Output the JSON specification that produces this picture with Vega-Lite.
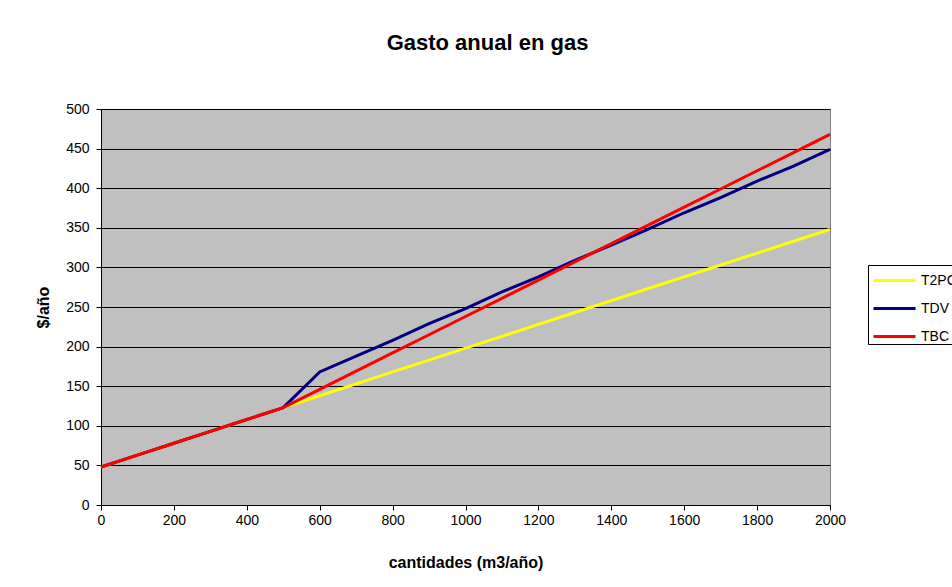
{
  "$schema": "https://vega.github.io/schema/vega-lite/v6.json",
  "autosize": "none",
  "width": 729,
  "height": 396,
  "padding": {"left": 101, "top": 109, "right": 122, "bottom": 82},
  "background": "white",
  "title": {"text": "Gasto anual en gas", "font": "Liberation Sans", "fontSize": 22, "fontWeight": "bold", "color": "black", "anchor": "middle", "frame": "group", "dx": 22, "offset": 47},
  "config": {
    "view": {"fill": "#C0C0C0", "stroke": "#808080", "strokeWidth": 1},
    "axis": {"labelFont": "Liberation Sans", "labelFontSize": 14, "labelColor": "black", "titleFont": "Liberation Sans", "titleFontSize": 16, "titleFontWeight": "bold", "titleColor": "black", "domainColor": "black", "tickColor": "black", "tickSize": 5, "gridColor": "black", "gridOpacity": 1, "gridWidth": 1}
  },
  "data": {"values": [
    {"x": 0, "y": 48, "s": "T2PC"}, {"x": 100, "y": 63, "s": "T2PC"}, {"x": 200, "y": 78, "s": "T2PC"}, {"x": 300, "y": 93, "s": "T2PC"}, {"x": 400, "y": 108, "s": "T2PC"}, {"x": 500, "y": 123, "s": "T2PC"}, {"x": 600, "y": 138, "s": "T2PC"}, {"x": 700, "y": 153, "s": "T2PC"}, {"x": 800, "y": 168, "s": "T2PC"}, {"x": 900, "y": 183, "s": "T2PC"}, {"x": 1000, "y": 198, "s": "T2PC"}, {"x": 1100, "y": 213, "s": "T2PC"}, {"x": 1200, "y": 228, "s": "T2PC"}, {"x": 1300, "y": 243, "s": "T2PC"}, {"x": 1400, "y": 258, "s": "T2PC"}, {"x": 1500, "y": 273, "s": "T2PC"}, {"x": 1600, "y": 288, "s": "T2PC"}, {"x": 1700, "y": 303, "s": "T2PC"}, {"x": 1800, "y": 318, "s": "T2PC"}, {"x": 1900, "y": 333, "s": "T2PC"}, {"x": 2000, "y": 348, "s": "T2PC"},
    {"x": 0, "y": 48, "s": "TDV"}, {"x": 100, "y": 63, "s": "TDV"}, {"x": 200, "y": 78, "s": "TDV"}, {"x": 300, "y": 93, "s": "TDV"}, {"x": 400, "y": 108, "s": "TDV"}, {"x": 500, "y": 123, "s": "TDV"}, {"x": 600, "y": 168, "s": "TDV"}, {"x": 700, "y": 188, "s": "TDV"}, {"x": 800, "y": 208, "s": "TDV"}, {"x": 900, "y": 229, "s": "TDV"}, {"x": 1000, "y": 248, "s": "TDV"}, {"x": 1100, "y": 269, "s": "TDV"}, {"x": 1200, "y": 288, "s": "TDV"}, {"x": 1300, "y": 309, "s": "TDV"}, {"x": 1400, "y": 328, "s": "TDV"}, {"x": 1500, "y": 348, "s": "TDV"}, {"x": 1600, "y": 369, "s": "TDV"}, {"x": 1700, "y": 388, "s": "TDV"}, {"x": 1800, "y": 409, "s": "TDV"}, {"x": 1900, "y": 428, "s": "TDV"}, {"x": 2000, "y": 449, "s": "TDV"},
    {"x": 0, "y": 48, "s": "TBC"}, {"x": 100, "y": 63, "s": "TBC"}, {"x": 200, "y": 78, "s": "TBC"}, {"x": 300, "y": 93, "s": "TBC"}, {"x": 400, "y": 108, "s": "TBC"}, {"x": 500, "y": 123, "s": "TBC"}, {"x": 600, "y": 146, "s": "TBC"}, {"x": 700, "y": 169, "s": "TBC"}, {"x": 800, "y": 192, "s": "TBC"}, {"x": 900, "y": 215, "s": "TBC"}, {"x": 1000, "y": 238, "s": "TBC"}, {"x": 1100, "y": 261, "s": "TBC"}, {"x": 1200, "y": 284, "s": "TBC"}, {"x": 1300, "y": 307, "s": "TBC"}, {"x": 1400, "y": 330, "s": "TBC"}, {"x": 1500, "y": 353, "s": "TBC"}, {"x": 1600, "y": 376, "s": "TBC"}, {"x": 1700, "y": 399, "s": "TBC"}, {"x": 1800, "y": 422, "s": "TBC"}, {"x": 1900, "y": 445, "s": "TBC"}, {"x": 2000, "y": 468, "s": "TBC"}
  ]},
  "mark": {"type": "line", "strokeWidth": 3},
  "encoding": {
    "x": {"field": "x", "type": "quantitative", "scale": {"domain": [0, 2000], "nice": false}, "axis": {"title": "cantidades (m3/año)", "format": "d", "values": [0, 200, 400, 600, 800, 1000, 1200, 1400, 1600, 1800, 2000], "grid": false, "labelPadding": 3, "titlePadding": 27, "labelFlush": false}},
    "y": {"field": "y", "type": "quantitative", "scale": {"domain": [0, 500], "nice": false}, "axis": {"title": "$/año", "values": [0, 50, 100, 150, 200, 250, 300, 350, 400, 450, 500], "labelPadding": 7, "titlePadding": 14}},
    "color": {"field": "s", "type": "nominal", "sort": ["T2PC", "TDV", "TBC"], "scale": {"domain": ["T2PC", "TDV", "TBC"], "range": ["#FFFF00", "#000080", "#FF0000"]},
      "legend": {"title": null, "orient": "none", "legendX": 767, "legendY": 156, "symbolType": "M-1.5,0H1.5", "symbolSize": 784, "symbolStrokeWidth": 3, "symbolOffset": 11, "labelFont": "Liberation Sans", "labelFontSize": 14, "labelColor": "black", "rowPadding": 5, "strokeColor": "black", "fillColor": "white", "padding": 0, "labelOffset": 11}}
  }
}
